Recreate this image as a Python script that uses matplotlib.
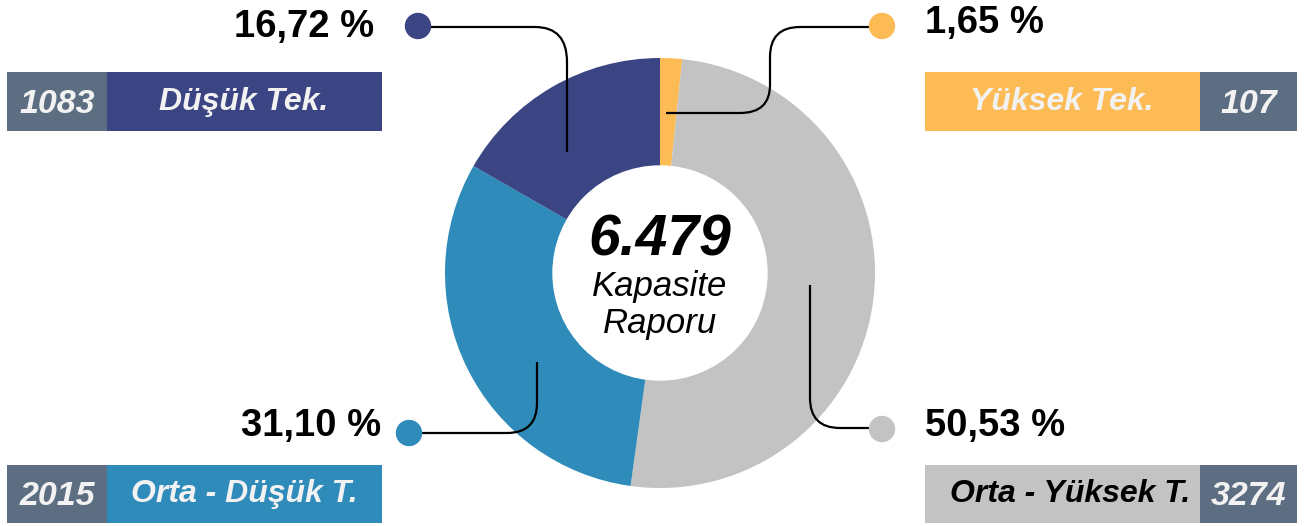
import matplotlib.pyplot as plt
from matplotlib.path import Path
from matplotlib.patches import PathPatch, Rectangle, Circle

plt.rcParams['font.family'] = ['Liberation Sans', 'DejaVu Sans']

categories = ['Yüksek Tek.', 'Orta - Yüksek T.', 'Orta - Düşük T.', 'Düşük Tek.']
values = [107, 3274, 2015, 1083]
percents = ['1,65 %', '50,53 %', '31,10 %', '16,72 %']
total_label = '6.479'
colors = ['#FDBB56', '#C3C3C3', '#2E8BBA', '#3B4583']
slate = '#5D6E82'

W, H = 1305, 526
fig = plt.figure(figsize=(W / 100, H / 100), dpi=100)
ax = fig.add_axes([0, 0, 1, 1])

# donut (y axis inverted -> start at top, clockwise visually)
cx, cy, R, r_in = 660, 273, 215, 107
ax.pie(values, colors=colors, startangle=-90, counterclock=True,
       radius=R, center=(cx, cy), wedgeprops=dict(width=R - r_in, linewidth=0))
ax.add_patch(Circle((cx, cy), r_in, color='white', zorder=3))

ax.text(cx, 255, total_label, ha='center', va='baseline', fontsize=41,
        fontweight='bold', style='italic', zorder=4)
ax.text(cx, 296, 'Kapasite', ha='center', va='baseline', fontsize=25, style='italic', zorder=4)
ax.text(cx, 333, 'Raporu', ha='center', va='baseline', fontsize=25, style='italic', zorder=4)


def leader(pts, kinds):
    codes = [Path.MOVETO] + kinds
    ax.add_patch(PathPatch(Path(pts, codes), fill=False, lw=1.6, ec='black', zorder=5))


L, C = Path.LINETO, Path.CURVE3
# Düşük Tek.
leader([(430, 27), (535, 27), (567, 27), (567, 62), (567, 152)], [L, C, C, L])
# Yüksek Tek.
leader([(870, 27), (800, 27), (770, 27), (770, 57), (770, 85), (770, 113), (740, 113), (666, 113)],
       [L, C, C, L, C, C, L])
# Orta - Düşük T.
leader([(420, 433), (507, 433), (537, 433), (537, 403), (537, 362)], [L, C, C, L])
# Orta - Yüksek T.
leader([(870, 428), (840, 428), (810, 428), (810, 398), (810, 285)], [L, C, C, L])

dots = [(882, 26), (882, 429), (409, 433), (418, 26)]
for (x, y), c in zip(dots, colors):
    ax.add_patch(Circle((x, y), 12.5, color=c, zorder=6))

# percentage labels
pct_pos = [(925, 33, 'left'), (925, 436, 'left'), (381, 436, 'right'), (374, 37, 'right')]
for (x, y, ha), t in zip(pct_pos, percents):
    ax.text(x, y, t, ha=ha, va='baseline', fontsize=27.5, fontweight='bold')

# label boxes: name box x0, x1, number box x0, x1, y0, y1, name text x, align, baseline, colour
boxes = [
    (925, 1200, 1200, 1297, 72, 131, 1062, 'center', 110, '#F2F2F2'),
    (925, 1200, 1200, 1297, 465, 523, 1190, 'right', 502, 'black'),
    (107, 382, 7, 107, 465, 523, 244, 'center', 502, '#F2F2F2'),
    (107, 382, 7, 107, 72, 131, 244, 'center', 110, '#F2F2F2'),
]
for (nx0, nx1, vx0, vx1, y0, y1, tx, ha, yb, tc), name, val, col in zip(boxes, categories, values, colors):
    ax.add_patch(Rectangle((nx0, y0), nx1 - nx0, y1 - y0, color=col, lw=0))
    ax.add_patch(Rectangle((vx0, y0), vx1 - vx0, y1 - y0, color=slate, lw=0))
    ax.text(tx, yb, name, ha=ha, va='baseline', fontsize=23,
            fontweight='bold', style='italic', color=tc)
    ax.text((vx0 + vx1) / 2, yb + 3, str(val), ha='center', va='baseline', fontsize=24.5,
            fontweight='bold', style='italic', color='#F2F2F2')

ax.set_xlim(0, W)
ax.set_ylim(H, 0)
ax.set_aspect('auto')
ax.axis('off')
fig.savefig('out.png', dpi=100)
